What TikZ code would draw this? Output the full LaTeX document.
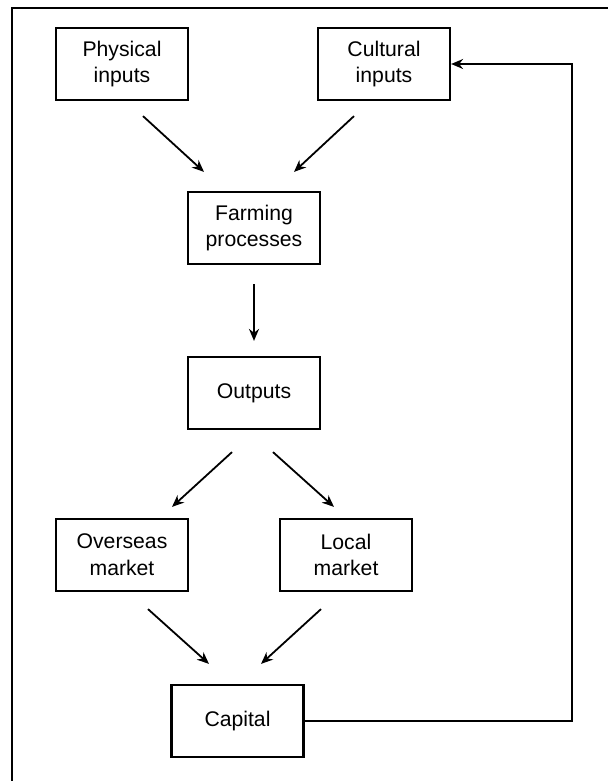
\documentclass[tikz,border=0pt]{standalone}
\usepackage{fontspec}
\setmainfont{Liberation Sans}
\usepackage{tikz}
\usetikzlibrary{arrows.meta}
\tikzset{
  box/.style={
    draw, line width=1.1pt, align=center,
    minimum width=66pt, minimum height=36pt, inner sep=0pt,
    font=\fontsize{10.6}{13.4}\selectfont,
  },
  flow/.style={
    line width=0.9pt,
    -{Stealth[length=6pt,width=5pt]},
  },
}

\begin{document}
\begin{tikzpicture}[x=0.5pt, y=-0.5pt]

  \useasboundingbox (0,0) rectangle (607,781);

  % Frame
  \draw[line width=1.1pt] (11.6,800) -- (11.6,8.3) -- (620,8.3);

  % Define nodes
  \node[box] (phys) at (122,64) {Physical\\inputs};
  \node[box] (cult) at (384,64) {Cultural\\inputs};
  \node[box] (farm) at (254,228) {Farming\\processes};
  \node[box] (out) at (254,393) {Outputs};
  \node[box] (over) at (122,555) {Overseas\\market};
  \node[box] (local) at (346,555) {Local\\market};
  \node[box] (cap) at (237.5,721) {Capital};
  \coordinate (turn) at (572,64);

  % Connect nodes
  \draw[flow] ([shift={(21,15)}]phys.south) -- ([shift={(-50,-19)}]farm.north);
  \draw[flow] ([shift={(-30,15)}]cult.south) -- ([shift={(40,-19)}]farm.north);
  \draw[flow] ([shift={(0,19)}]farm.south) -- ([shift={(0,-15)}]out.north);
  \draw[flow] ([shift={(-22,22)}]out.south) -- ([shift={(50,-11)}]over.north);
  \draw[flow] ([shift={(19,22)}]out.south) -- ([shift={(-12,-11)}]local.north);
  \draw[flow] ([shift={(26,17)}]over.south) -- ([shift={(-28.5,-20)}]cap.north);
  \draw[flow] ([shift={(-25,17)}]local.south) -- ([shift={(23.5,-20)}]cap.north);

  % Feedback loop
  \draw[flow] (cap.east) -| (turn) -- (cult.east);

\end{tikzpicture}
\end{document}
